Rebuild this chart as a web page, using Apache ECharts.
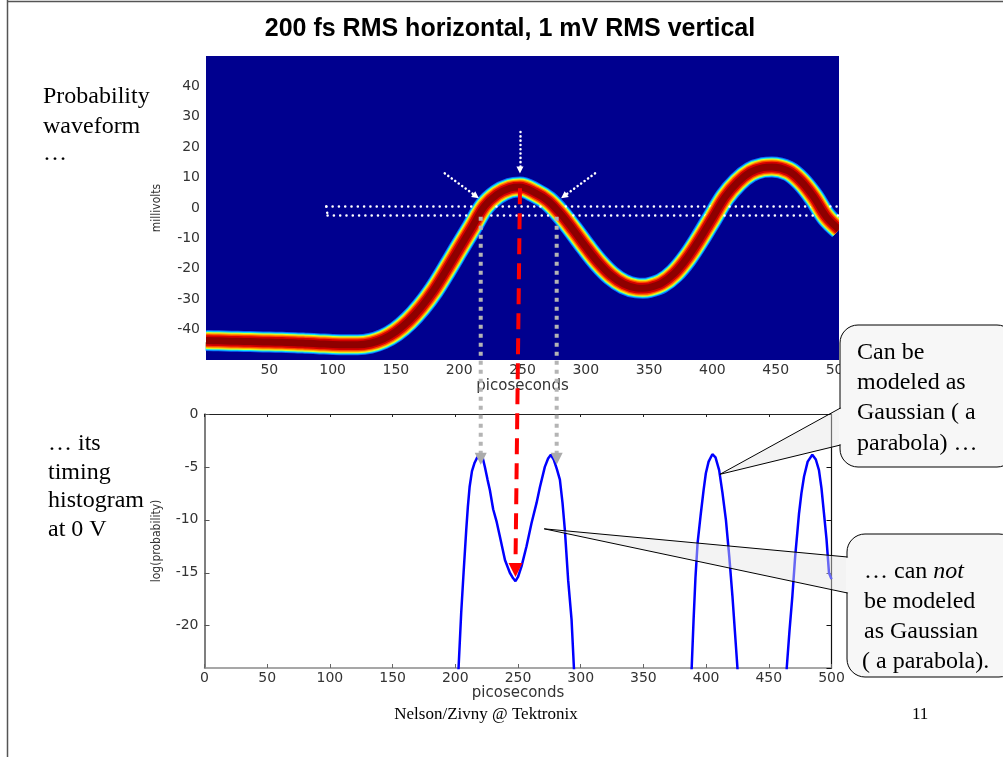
<!DOCTYPE html>
<html>
<head>
<meta charset="utf-8">
<title>200 fs RMS horizontal, 1 mV RMS vertical</title>
<script src="https://cdn.jsdelivr.net/npm/echarts@6/dist/echarts.min.js"></script>
<style>
  html, body { margin: 0; padding: 0; background: #fff; }
  #main { width: 1003px; height: 757px; }
</style>
</head>
<body>
<div id="main"></div>
<script>
    // probability waveform: centre of the band, picoseconds / millivolts
    const waveTime = [0, 10, 20, 30, 40, 50, 60, 70, 80, 90, 100, 110, 120, 130, 140, 150, 160, 170, 180, 190,
        200, 210, 220, 230, 240, 248, 260, 270, 280, 290, 300, 310, 320, 330, 340, 345, 350, 360, 370, 380,
        390, 400, 410, 420, 430, 440, 447, 460, 470, 480, 490, 500];
    const waveMv = [-43.6, -43.7, -43.8, -43.9, -44.0, -44.1, -44.2, -44.3, -44.5, -44.7, -44.9, -45.0, -45.0, -44.5, -43.1, -40.7, -37.2, -32.6, -27.0, -20.3,
        -13.3, -6.4, 0.6, 4.5, 6.5, 6.9, 5.0, 2.4, -1.9, -7.2, -12.8, -18.0, -22.2, -25.0, -26.3, -26.4, -26.2, -24.7, -21.5, -16.5,
        -10.2, -3.3, 3.6, 8.5, 11.8, 13.3, 13.5, 12.2, 8.8, 3.6, -2.9, -7.0];

    // timing histogram at 0 V, log(probability); null breaks the curve
    const histTime = [202.0, 202.6, 204.7, 206.6, 208.7, 210.0, 211.4, 213.3, 215.4, 217.5, 220.0, 222.0, 223.6, 225.7, 227.6, 230.2, 233.0, 235.6, 239.6, 243.5,
        246.0, 248.0, 250.0, 252.8, 256.8, 260.8, 264.8, 267.5, 271.4, 274.0, 276.2, 278.5, 281.0, 283.4, 285.5, 287.4, 290.0, 292.7, 294.6, 295.0,
        340,
        387.8, 388.5, 390.0, 391.5, 393.2, 395.8, 398.0, 399.8, 402.0, 405.0, 407.5, 410.4, 413.0, 415.8, 418.5, 421.0, 423.0, 425.0, 425.3,
        445,
        464.0, 464.3, 466.5, 468.8, 471.0, 474.1, 476.0, 478.1, 481.0, 484.7, 487.5, 490.0, 492.0, 494.0, 496.0, 498.0, 500.0];
    const histLogP = [-25, -24, -18.8, -15.0, -11.0, -8.8, -6.9, -5.4, -4.6, -4.1, -3.85, -4.2, -5.0, -6.2, -7.2, -9.0, -10.2, -11.6, -13.8, -15.0,
        -15.5, -15.8, -15.4, -14.4, -12.5, -10.3, -8.4, -6.9, -5.0, -4.2, -3.85, -4.3, -5.2, -6.2, -8.4, -11.0, -15.7, -19.4, -24, -25,
        null,
        -25, -24, -19.5, -15.5, -12.2, -9.4, -7.2, -5.6, -4.5, -3.8, -4.1, -5.3, -7.4, -10.0, -13.5, -17.2, -20.6, -24, -25,
        null,
        -25, -24, -20.5, -17.2, -13.5, -9.4, -7.5, -5.9, -4.5, -3.85, -4.3, -5.3, -7.0, -9.4, -11.8, -15.0, -15.6];

    const topXTicks = [50, 100, 150, 200, 250, 300, 350, 400, 450, 500];
    const topYTicks = [-40, -30, -20, -10, 0, 10, 20, 30, 40];

    // 0 V window drawn on the waveform (mV)
    const zeroWindow = [0.5, -2.3];

    const serif = '"Liberation Serif", "Times New Roman", serif';
    const sans = '"Liberation Sans", Arial, sans-serif';
    const tickFont = '"DejaVu Sans", sans-serif';
    const narrow = '"Liberation Sans Narrow", "DejaVu Sans Condensed", sans-serif';

    // colour map layers of the band, outside to inside
    const bandLayers = [
        {color: '#0a6cff', width: 21},
        {color: '#12e6f2', width: 19},
        {color: '#d6ff30', width: 17},
        {color: '#ffb400', width: 15},
        {color: '#ff4a00', width: 13},
        {color: '#d40000', width: 10.5},
        {color: '#8e0000', width: 7}
    ];

    let wave = waveTime.map(function (t, i) {
        return [t, waveMv[i]];
    });
    let hist = histTime.map(function (t, i) {
        return [t, histLogP[i] === null ? '-' : histLogP[i]];
    });

    let dotted = {color: '#fff', width: 2.5, type: [0.1, 6.2], cap: 'round'};
    let arrowDots = {color: '#fff', width: 2.5, type: [0.1, 4.2], cap: 'round'};

    function plain(a, b, style) {
        return [
            {coord: a, symbol: 'none', lineStyle: style},
            {coord: b, symbol: 'none'}
        ];
    }

    function arrow(a, b) {
        return [
            {coord: a, symbol: 'none', lineStyle: arrowDots},
            {coord: b, symbol: 'triangle', symbolSize: 7}
        ];
    }

    let series = bandLayers.map(function (layer, i) {
        return {
            type: 'line',
            xAxisIndex: 0,
            yAxisIndex: 0,
            data: wave,
            smooth: 0.35,
            symbol: 'none',
            silent: true,
            lineStyle: {color: layer.color, width: layer.width, cap: 'butt', join: 'round'},
            z: 2 + i
        };
    });

    series[series.length - 1].markLine = {
        silent: true,
        animation: false,
        label: {show: false},
        emphasis: {disabled: true},
        itemStyle: {color: '#fff'},
        data: [
            plain([95, zeroWindow[0]], [500, zeroWindow[0]], dotted),
            plain([96, zeroWindow[1]], [500, zeroWindow[1]], dotted),
            plain([95, zeroWindow[0]], [96, zeroWindow[1]], dotted),
            arrow([248, 25], [248, 12.5]),
            arrow([188.6, 11.4], [213.3, 3.9]),
            arrow([307.3, 11.4], [282.7, 3.9])
        ]
    };

    series.push({
        type: 'line',
        xAxisIndex: 1,
        yAxisIndex: 1,
        data: hist,
        symbol: 'none',
        silent: true,
        connectNulls: false,
        lineStyle: {color: '#0000ff', width: 2.5},
        z: 5
    });

    let tickLabel = {color: '#333', fontSize: 14, fontFamily: tickFont};

    function frameLine(color, width) {
        return {onZero: false, lineStyle: {color: color, width: width}};
    }

    function inTick(len, color) {
        return {inside: true, length: len, lineStyle: {color: color}};
    }

    let myChart = echarts.init(document.getElementById('main'));
    myChart.setOption({
        animation: false,
        backgroundColor: '#fff',
        grid: [
            {left: 206, top: 56, width: 633, height: 304, show: true, backgroundColor: '#00008f', borderWidth: 0},
            {left: 204.5, top: 414, width: 627, height: 254, show: false}
        ],
        xAxis: [
            {
                gridIndex: 0, type: 'value', min: 0, max: 500, interval: 50,
                axisLine: {show: false, onZero: false}, axisTick: {show: false}, splitLine: {show: false},
                axisLabel: Object.assign({customValues: topXTicks, margin: 3}, tickLabel),
                name: 'picoseconds', nameLocation: 'middle', nameGap: 19,
                nameTextStyle: {color: '#333', fontSize: 15, fontFamily: tickFont}
            },
            {
                gridIndex: 1, type: 'value', position: 'bottom', min: 0, max: 500, interval: 50,
                axisLine: frameLine('#8a8a8a', 1.5),
                axisTick: inTick(4, '#666'),
                splitLine: {show: false},
                axisLabel: Object.assign({margin: 3}, tickLabel),
                name: 'picoseconds', nameLocation: 'middle', nameGap: 17,
                nameTextStyle: {color: '#333', fontSize: 15, fontFamily: tickFont}
            },
            {
                gridIndex: 1, type: 'value', position: 'top', min: 0, max: 500, interval: 50,
                axisLine: frameLine('#222', 1.2),
                axisTick: inTick(3, '#222'),
                axisLabel: {show: false}, splitLine: {show: false}
            }
        ],
        yAxis: [
            {
                gridIndex: 0, type: 'value', min: -50, max: 50, interval: 10,
                axisLine: {show: false, onZero: false}, axisTick: {show: false}, splitLine: {show: false},
                axisLabel: Object.assign({customValues: topYTicks, margin: 6}, tickLabel),
                name: 'millivolts', nameLocation: 'middle', nameGap: 43,
                nameTextStyle: {color: '#333', fontSize: 12, fontFamily: narrow}
            },
            {
                gridIndex: 1, type: 'value', position: 'left', min: -24, max: 0, splitNumber: 5,
                axisLine: frameLine('#555', 1.5),
                axisTick: inTick(5, '#555'),
                splitLine: {show: false},
                axisLabel: Object.assign({margin: 6, showMinLabel: false}, tickLabel),
                name: 'log(probability)', nameLocation: 'middle', nameGap: 42,
                nameTextStyle: {color: '#333', fontSize: 12, fontFamily: narrow}
            },
            {
                gridIndex: 1, type: 'value', position: 'right', min: -24, max: 0, splitNumber: 5,
                axisLine: frameLine('#111', 1.2),
                axisTick: inTick(5, '#111'),
                axisLabel: {show: false}, splitLine: {show: false}
            }
        ],
        series: series
    });

    function px(grid, pt) {
        return myChart.convertToPixel({gridIndex: grid}, pt);
    }

    function text(str, x, y, size, rich) {
        let style = {text: str, x: x, y: y, fill: '#000', fontSize: size, fontFamily: serif, verticalAlign: 'middle', align: 'left'};
        if (rich) {
            style.rich = rich;
        }
        return {type: 'text', z: 120, silent: true, style: style};
    }

    let g = [];

    // keep the wide band strokes inside the plot frame
    g.push({type: 'rect', z: 50, silent: true, shape: {x: 839, y: 50, width: 14, height: 312}, style: {fill: '#fff'}});

    // slide frame
    g.push({type: 'line', z: 90, shape: {x1: 7.5, y1: 0, x2: 7.5, y2: 757}, style: {stroke: '#555', lineWidth: 1.5}});
    g.push({type: 'line', z: 90, shape: {x1: 7, y1: 1.5, x2: 1003, y2: 1.5}, style: {stroke: '#555', lineWidth: 1.5}});

    g.push({
        type: 'text', z: 120, silent: true,
        style: {text: '200 fs RMS horizontal, 1 mV RMS vertical', x: 510, y: 29, fill: '#000', fontSize: 25,
            fontWeight: 'bold', fontFamily: sans, align: 'center', verticalAlign: 'middle'}
    });

    g.push(text('Probability', 43, 97, 24));
    g.push(text('waveform', 43, 127, 24));
    g.push(text('\u2026', 43, 154, 24));
    g.push(text('\u2026 its', 48, 444, 24));
    g.push(text('timing', 48, 473, 24));
    g.push(text('histogram', 48, 501, 24));
    g.push(text('at 0 V', 48, 530, 24));

    g.push({
        type: 'text', z: 120, silent: true,
        style: {text: 'Nelson/Zivny @ Tektronix', x: 486, y: 715, fill: '#000', fontSize: 17,
            fontFamily: serif, align: 'center', verticalAlign: 'middle'}
    });
    g.push(text('11', 912, 715, 17));

    // red dashed arrow from waveform peak to the histogram dip
    let rTop = px(0, [248, 6.5]);
    let rTip = px(1, [248, -15.4]);
    g.push({type: 'line', z: 110, silent: true,
        shape: {x1: rTop[0], y1: rTop[1], x2: rTip[0], y2: rTip[1] - 13},
        style: {stroke: '#ff0000', lineWidth: 4, lineDash: [16, 9]}});
    g.push({type: 'polygon', z: 110, silent: true,
        shape: {points: [[rTip[0] - 7, rTip[1] - 14], [rTip[0] + 7, rTip[1] - 14], rTip]},
        style: {fill: '#ff0000'}});

    // grey dotted arrows from the 0 V crossings to the histogram peaks
    [217, 277].forEach(function (t) {
        let top = px(0, [t, -2.9]);
        let tipY = px(1, [t, -4.8])[1];
        g.push({type: 'line', z: 108, silent: true,
            shape: {x1: top[0], y1: top[1], x2: top[0], y2: tipY - 11},
            style: {stroke: '#b4b4b4', lineWidth: 4, lineDash: [4, 5]}});
        g.push({type: 'polygon', z: 108, silent: true,
            shape: {points: [[top[0] - 6, tipY - 12], [top[0] + 6, tipY - 12], [top[0], tipY]]},
            style: {fill: '#ababab'}});
    });

    // callouts
    function callout(box, tip, a, b, lines) {
        g.push({type: 'rect', z: 100, silent: true,
            shape: {x: box[0], y: box[1], width: box[2], height: box[3], r: 18},
            style: {fill: '#f7f7f7', stroke: '#000', lineWidth: 1}});
        g.push({type: 'polygon', z: 101, silent: true,
            shape: {points: [tip, [box[0] + 2, a], [box[0] + 2, b]]},
            style: {fill: 'rgba(228,228,228,0.45)'}});
        g.push({type: 'rect', z: 101, silent: true,
            shape: {x: box[0] - 1, y: a + 1, width: 3, height: b - a - 2},
            style: {fill: '#f7f7f7'}});
        g.push({type: 'polyline', z: 102, silent: true,
            shape: {points: [[box[0] + 0.5, a], tip, [box[0] + 0.5, b]]},
            style: {stroke: '#000', lineWidth: 1, fill: null}});
        lines.forEach(function (l) {
            g.push(text(l[0], l[1], l[2], 24, l[3]));
        });
    }

    callout([840, 325, 175, 142], px(1, [411, -5.7]), 408, 445, [
        ['Can be', 857, 353],
        ['modeled as', 857, 383],
        ['Gaussian ( a', 857, 413],
        ['parabola) \u2026', 857, 444]
    ]);
    callout([847, 534, 170, 143], px(1, [270.9, -10.85]), 557, 593, [
        ['\u2026 can {i|not}', 864, 572, {i: {fontStyle: 'italic', fontSize: 24, fontFamily: serif}}],
        ['be modeled', 864, 602],
        ['as Gaussian', 864, 632],
        ['( a parabola).', 862, 662]
    ]);

    myChart.setOption({graphic: g});
</script>
</body>
</html>
